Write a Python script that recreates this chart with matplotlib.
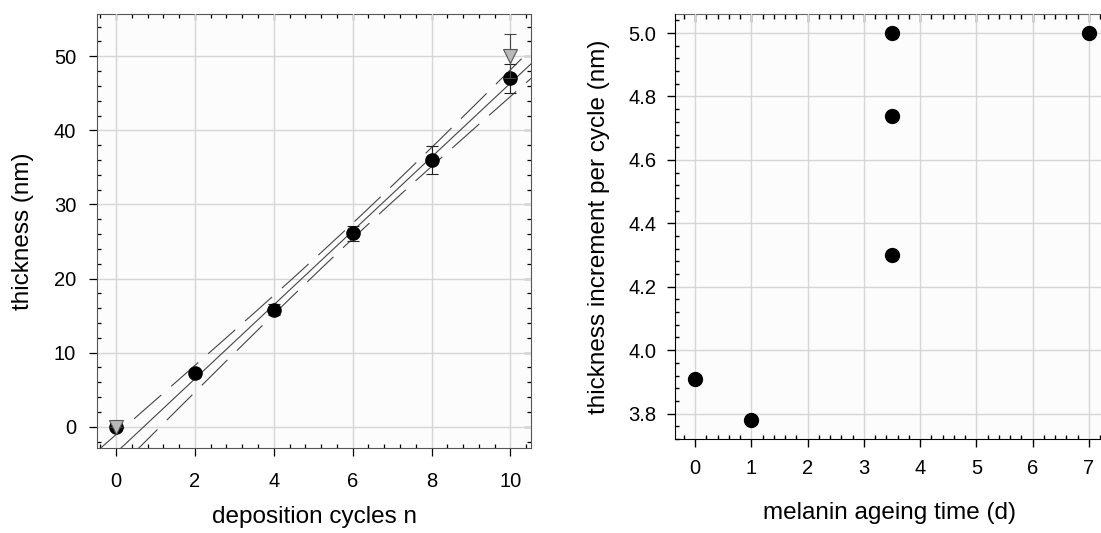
import numpy as np
import matplotlib
matplotlib.use('Agg')
import matplotlib.pyplot as plt
from matplotlib.ticker import MultipleLocator

plt.rcParams['font.family'] = ['Liberation Sans', 'DejaVu Sans']
plt.rcParams['lines.scale_dashes'] = False

# left panel: film thickness after n deposition cycles
cycles = np.array([0, 2, 4, 6, 8, 10])
thick = np.array([0.0, 7.2, 15.8, 26.1, 36.0, 47.0])
thick_err = np.array([0.3, 0.3, 0.7, 1.0, 1.9, 2.0])
# second series (grey triangles)
ref_cycles = np.array([0, 10])
ref_thick = np.array([0.0, 50.0])
ref_err = np.array([0.0, 3.0])

# right panel: increment per cycle vs. ageing time of the melanin solution
age_days = [0, 1, 3.5, 3.5, 3.5, 7]
increment = [3.91, 3.78, 5.00, 4.74, 4.30, 5.00]

T95 = 3.182  # student t, 3 dof

GRID = '#d6d6d6'
SPINE = '#555555'
LBL = 17.5
TCK = 14.5

fig = plt.figure(figsize=(11.01, 5.33), dpi=100)

#----------------------------------------------------
# left panel
ax = fig.add_axes([0.0881, 0.1595, 0.3942, 0.8142])
ax.set_facecolor('#fcfcfc')
xlo, xhi = -0.48, 10.52
ax.set_xlim(xlo, xhi)
ax.set_ylim(-2.87, 55.7)

# linear fit (n >= 2) with 95% confidence band
sel = cycles >= 2
xf, yf = cycles[sel], thick[sel]
slope, icpt = np.polyfit(xf, yf, 1)
resid = yf - (slope * xf + icpt)
s = np.sqrt(np.sum(resid ** 2) / (len(xf) - 2))
xx = np.linspace(xlo, xhi, 300)
fit = slope * xx + icpt
band = T95 * s * np.sqrt(1 / len(xf) + (xx - xf.mean()) ** 2 / np.sum((xf - xf.mean()) ** 2))
ax.plot(xx, fit, color='#444444', lw=0.8, zorder=3)
ax.plot(xx, fit + band, color='#444444', lw=0.8, dashes=(26, 9.5), zorder=3)
ax.plot(xx, fit - band, color='#444444', lw=0.8, dashes=(26, 9.5), zorder=3)

ax.errorbar(cycles, thick, yerr=thick_err, fmt='o', color='black', ms=9.5,
            ecolor='#222222', elinewidth=0.8, capsize=4, capthick=0.8, zorder=4)
ax.errorbar(ref_cycles, ref_thick, yerr=ref_err, fmt='v', ms=9.5,
            mfc='#b8b8b8', mec='#555555', mew=0.8,
            ecolor='#444444', elinewidth=0.8, capsize=4, capthick=0.8, zorder=5)

ax.xaxis.set_major_locator(MultipleLocator(2))
ax.xaxis.set_minor_locator(MultipleLocator(0.4))
ax.yaxis.set_major_locator(MultipleLocator(10))
ax.yaxis.set_minor_locator(MultipleLocator(2))
ax.grid(True, which='major', color=GRID, lw=1.0)
ax.set_axisbelow(True)
ax.tick_params(which='major', direction='out', length=5.5, width=0.9,
               labelsize=TCK, top=False, right=False)
ax.tick_params(axis='x', which='major', pad=11.5)
ax.tick_params(axis='y', which='major', pad=9.5)
ax.tick_params(which='minor', direction='in', length=3, width=0.9,
               top=False, right=False)
for side in ['top', 'right']:
    ax.spines[side].set_visible(False)
for side in ['left', 'bottom']:
    ax.spines[side].set_color(SPINE)

sec = ax.secondary_xaxis('top')
sec.xaxis.set_major_locator(MultipleLocator(2))
sec.xaxis.set_minor_locator(MultipleLocator(0.4))
sec.tick_params(which='major', direction='in', length=4, width=0.9, labeltop=False)
sec.tick_params(which='minor', direction='in', length=3, width=0.9)
sec.spines['top'].set_color(SPINE)
secy = ax.secondary_yaxis('right')
secy.yaxis.set_major_locator(MultipleLocator(10))
secy.yaxis.set_minor_locator(MultipleLocator(2))
secy.tick_params(which='major', direction='in', length=5, width=0.9, labelright=False)
secy.tick_params(which='minor', direction='in', length=3, width=0.9)
secy.spines['right'].set_color(SPINE)

ax.set_xlabel('deposition cycles n', fontsize=LBL, labelpad=11)
ax.set_ylabel('thickness (nm)', fontsize=LBL, labelpad=14)

#----------------------------------------------------
# right panel
ax2 = fig.add_axes([0.6131, 0.1758, 0.3887, 0.7979])
ax2.set_facecolor('#fcfcfc')
ax2.set_xlim(-0.355, 7.25)
ax2.set_ylim(3.719, 5.06)
ax2.plot(age_days, increment, 'o', color='black', ms=10, zorder=4)

ax2.xaxis.set_major_locator(MultipleLocator(1))
ax2.xaxis.set_minor_locator(MultipleLocator(0.2))
ax2.yaxis.set_major_locator(MultipleLocator(0.2))
ax2.yaxis.set_minor_locator(MultipleLocator(0.04))
ax2.yaxis.set_major_formatter(matplotlib.ticker.FormatStrFormatter('%.1f'))
ax2.grid(True, which='major', color=GRID, lw=1.0)
ax2.set_axisbelow(True)
ax2.tick_params(which='major', direction='out', length=5.5, width=1.0,
                labelsize=TCK, top=False, right=False)
ax2.tick_params(axis='x', which='major', pad=9)
ax2.tick_params(axis='y', which='major', pad=8)
ax2.tick_params(which='minor', direction='in', length=3, width=1.0,
                top=False, right=False)
ax2.spines['top'].set_visible(False)
ax2.spines['right'].set_visible(False)

sec2 = ax2.secondary_xaxis('top')
sec2.xaxis.set_major_locator(MultipleLocator(1))
sec2.xaxis.set_minor_locator(MultipleLocator(0.2))
sec2.tick_params(which='major', direction='in', length=5.5, width=1.0, labeltop=False)
sec2.tick_params(which='minor', direction='in', length=3.5, width=1.0)
sec2.spines['top'].set_color('#666666')

ax2.set_xlabel('melanin ageing time (d)', fontsize=LBL, labelpad=17)
ax2.set_ylabel('thickness increment per cycle (nm)', fontsize=LBL, labelpad=13)

fig.savefig('out.png', dpi=100)
